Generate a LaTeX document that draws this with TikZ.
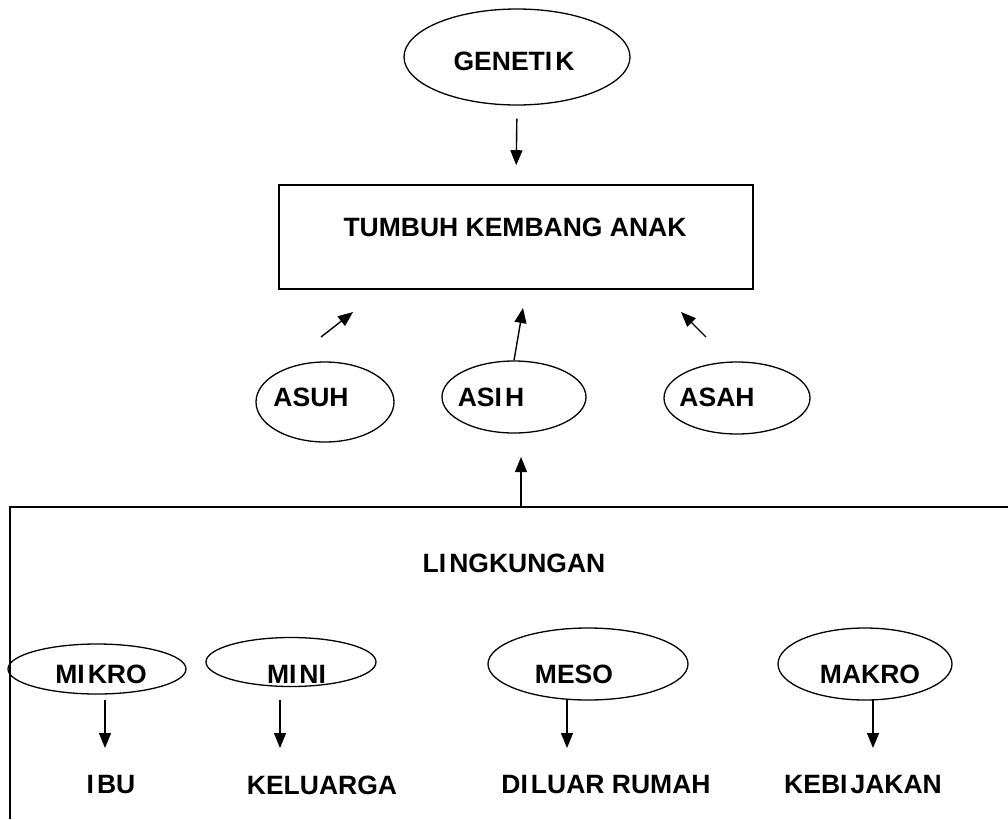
\documentclass[tikz,border=0pt]{standalone}
\usepackage{fontspec}
\setmainfont{Liberation Sans}
\usetikzlibrary{shapes.geometric,arrows.meta}
\newcommand{\Ik}{I\kern3pt}
\begin{document}
\begin{tikzpicture}[x=1pt,y=-1pt,
  ell/.style={draw, ellipse, line width=1.3pt, inner sep=0pt},
  lbl/.style={font=\bfseries\fontsize{26.5}{30}\selectfont, inner sep=0pt},
  arr/.style={-{Triangle[length=15pt,width=12pt]}, line width=1.4pt},
  boxline/.style={line width=1.6pt}]
\useasboundingbox (0,0) rectangle (1008,819);
% top
\node[ell, minimum width=226pt, minimum height=96pt] (gen) at (517,57) {};
\node[lbl] (gent) at (514,61) {GENET\Ik K};
\node[draw, boxline, minimum width=474pt, minimum height=104pt, inner sep=0pt] (tka) at (516,237) {};
\node[lbl] (tkat) at (515,227) {TUMBUH KEMBANG ANAK};
\draw[arr, shorten <=13pt, shorten >=19pt] (gen.south) -- (tka.north);
% middle ellipses
\node[ell, minimum width=138pt, minimum height=80pt] (asuh) at (325,402) {};
\node[lbl] (asuht) at (311,397) {ASUH};
\node[ell, minimum width=144pt, minimum height=72pt] (asih) at (514,397) {};
\node[lbl] (asiht) at (491,397) {AS\Ik H};
\node[ell, minimum width=146pt, minimum height=72pt] (asah) at (737,398) {};
\node[lbl] (asaht) at (717,397) {ASAH};
\coordinate (u1) at (321,337); \coordinate (u2) at (353,312);
\coordinate (i2) at (523,308);
\coordinate (a1) at (706,337); \coordinate (a2) at (681,312);
\draw[arr] (u1) -- (u2);
\draw[arr] (asih.north) -- (i2);
\draw[arr] (a1) -- (a2);
% lingkungan frame
\coordinate (lt) at (521,507);
\coordinate (lu) at (521,457);
\draw[boxline] (10,819) -- (10,507) -- (1008,507);
\draw[arr] (lt) -- (lu);
\node[lbl] (ling) at (514,563) {L\Ik NGKUNGAN};
% bottom ellipses
\node[ell, minimum width=178pt, minimum height=50pt] (mikro) at (97,669) {};
\node[lbl] (mikrot) at (101,674) {M\Ik KRO};
\node[ell, minimum width=170pt, minimum height=49pt] (mini) at (291,662) {};
\node[lbl] (minit) at (298,674) {M\Ik N\Ik};
\node[ell, minimum width=200pt, minimum height=72pt] (meso) at (588,664) {};
\node[lbl] (mesot) at (574,674) {MESO};
\node[ell, minimum width=174pt, minimum height=72pt] (makro) at (865,664) {};
\node[lbl] (makrot) at (870,674) {MAKRO};
% bottom labels
\node[lbl] (ibu) at (111,785) {\Ik BU};
\node[lbl] (kel) at (322,785) {KELUARGA};
\node[lbl] (dil) at (606,785) {D\Ik LUAR RUMAH};
\node[lbl] (keb) at (863,785) {KEB\Ik JAKAN};
\coordinate (m1) at (105,700); \coordinate (m2) at (105,748);
\coordinate (n1) at (280,700); \coordinate (n2) at (280,748);
\coordinate (e1) at (567,700); \coordinate (e2) at (567,748);
\coordinate (k1) at (873,700); \coordinate (k2) at (873,748);
\draw[arr] (m1) -- (m2);
\draw[arr] (n1) -- (n2);
\draw[arr] (e1) -- (e2);
\draw[arr] (k1) -- (k2);
\end{tikzpicture}
\end{document}
